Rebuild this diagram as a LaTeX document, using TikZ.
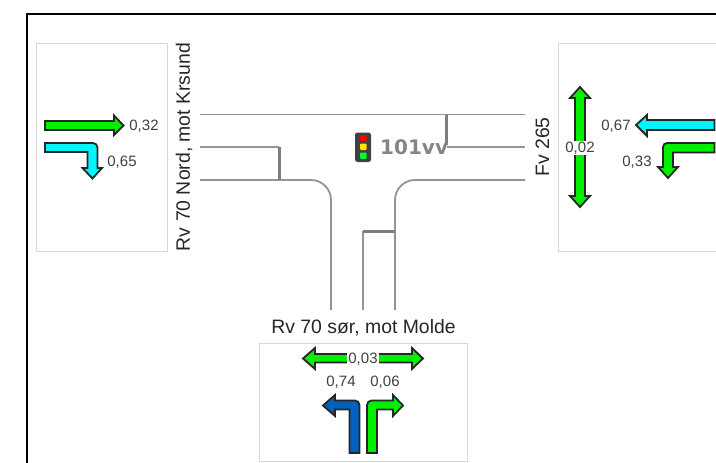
\documentclass[tikz,border=0pt]{standalone}
\usepackage{fontspec}
\setmainfont{Liberation Sans}
\newfontfamily\signalfont{DejaVu Sans}
\definecolor{arrgreen}{HTML}{00F000}
\definecolor{arrcyan}{HTML}{00F5FF}
\definecolor{arrblue}{HTML}{0060C0}
\definecolor{roadgrey}{HTML}{949494}
\definecolor{boxgrey}{HTML}{D8D8D8}
\definecolor{labelgrey}{HTML}{404040}
\tikzset{
  panel/.style={draw=boxgrey,line width=1pt,fill=white},
  road/.style={draw=roadgrey,line width=1.8pt},
  stopline/.style={draw=roadgrey!85!black,line width=3pt},
  arr/.style={draw=black!85,line width=1.8pt,line join=miter},
  val/.style={font=\fontsize{15}{16}\selectfont,text=labelgrey,inner sep=0pt,yshift=-1pt},
  gapval/.style={val,fill=white,inner sep=1pt},
  roadname/.style={font=\fontsize{19.4}{21}\selectfont,text=black!85,inner sep=0pt},
}
\begin{document}
\begin{tikzpicture}[x=1pt,y=-1pt]
\useasboundingbox (0,0) rectangle (716,463);
\fill[white] (0,0) rectangle (716,463);
\draw[black,line width=1.8pt] (716,14) -- (27,14) -- (27,463);
% panels
\draw[panel] (36,43) rectangle (167,251);
\draw[panel] (720,43) -- (558,43) -- (558,251) -- (720,251);
\draw[panel] (259,343.5) rectangle (467,461);
% roads
\draw[road] (200,114.5) -- (525,114.5);
\draw[road] (200,147) -- (279,147);
\draw[road] (200,180) -- (311,180) arc[start angle=-90,end angle=0,radius=20] -- (331,310);
\draw[road] (395,310) -- (395,200) arc[start angle=180,end angle=270,radius=20] -- (525,180);
\draw[road] (363,310) -- (363,231);
\draw[road] (447,147) -- (525,147);
\draw[stopline] (279,147) -- (279,180);
\draw[stopline] (363,231) -- (395,231);
\draw[stopline] (446.5,114.5) -- (446.5,145);
% signal
\fill[black!75,rounded corners=2.5pt] (355,132.5) rectangle (371,162);
\fill[red,rounded corners=1pt] (360,135) rectangle (366.5,141.5);
\fill[yellow!90!orange,rounded corners=1pt] (360,143.5) rectangle (366.5,150);
\fill[green!80!cyan,rounded corners=1pt] (360,152.5) rectangle (366.5,159);
\node[inner sep=0pt,anchor=west,text=roadgrey!90!black] (sig) at (380,147) {\signalfont\bfseries\fontsize{20}{22}\selectfont 101vv};
% left arrows
\draw[arr,fill=arrgreen] (45,121) -- (114,121) -- (114,115.5) -- (123.5,125.5) -- (114,135) -- (114,130) -- (45,130) -- cycle;
\draw[arr,fill=arrcyan] (45,143) -- (93,143) arc[start angle=-90,end angle=0,radius=4.5] -- (97.5,168) -- (102,168) -- (92.5,178.5) -- (82.5,168) -- (87.5,168) -- (87.5,152) -- (45,152) -- cycle;
\node[val] (l1) at (144,125) {0,32};
\node[val] (l2) at (122,161) {0,65};
% right arrows
\draw[arr,fill=arrgreen] (580,87) -- (590,98) -- (585,98) -- (585,196) -- (590,196) -- (580,207) -- (570,196) -- (575,196) -- (575,98) -- (570,98) -- cycle;
\node[gapval] (r0) at (580,147) {0,02};
\draw[arr,fill=arrcyan] (714.5,120) -- (647,120) -- (647,115) -- (636,125) -- (647,136) -- (647,130) -- (714.5,130) -- cycle;
\draw[arr,fill=arrgreen] (714.5,143) -- (667,143) arc[start angle=270,end angle=180,radius=4] -- (663,167) -- (658,167) -- (668,178) -- (678,167) -- (673,167) -- (673,152.5) -- (714.5,152.5) -- cycle;
\node[val] (r1) at (616,125) {0,67};
\node[val] (r2) at (637,161) {0,33};
% bottom arrows
\draw[arr,fill=arrgreen] (303,358.5) -- (315,348) -- (315,354) -- (412,354) -- (412,348) -- (423,358.5) -- (412,369) -- (412,362.5) -- (315,362.5) -- (315,369) -- cycle;
\node[gapval] (b0) at (363,358) {0,03};
\node[val] (b1) at (341,381) {0,74};
\node[val] (b2) at (385,381) {0,06};
\draw[arr,fill=arrblue] (349.5,453) -- (349.5,409.5) -- (335,409.5) -- (335,416) -- (323,405.5) -- (335,395) -- (335,400.5) -- (355,400.5) arc[start angle=-90,end angle=0,radius=4.5] -- (359.5,453) -- cycle;
\draw[arr,fill=arrgreen] (367,453) -- (367,405) arc[start angle=180,end angle=270,radius=4.5] -- (393,400.5) -- (393,395) -- (403,405.5) -- (393,416) -- (393,409.5) -- (377,409.5) -- (377,453) -- cycle;
% road names
\node[roadname,rotate=90] (nord) at (184,147) {Rv 70 Nord, mot Krsund};
\node[roadname,rotate=90] (fv) at (542.5,147) {Fv 265};
\node[roadname] (sor) at (363.5,327.5) {Rv 70 sør, mot Molde};
\end{tikzpicture}
\end{document}
